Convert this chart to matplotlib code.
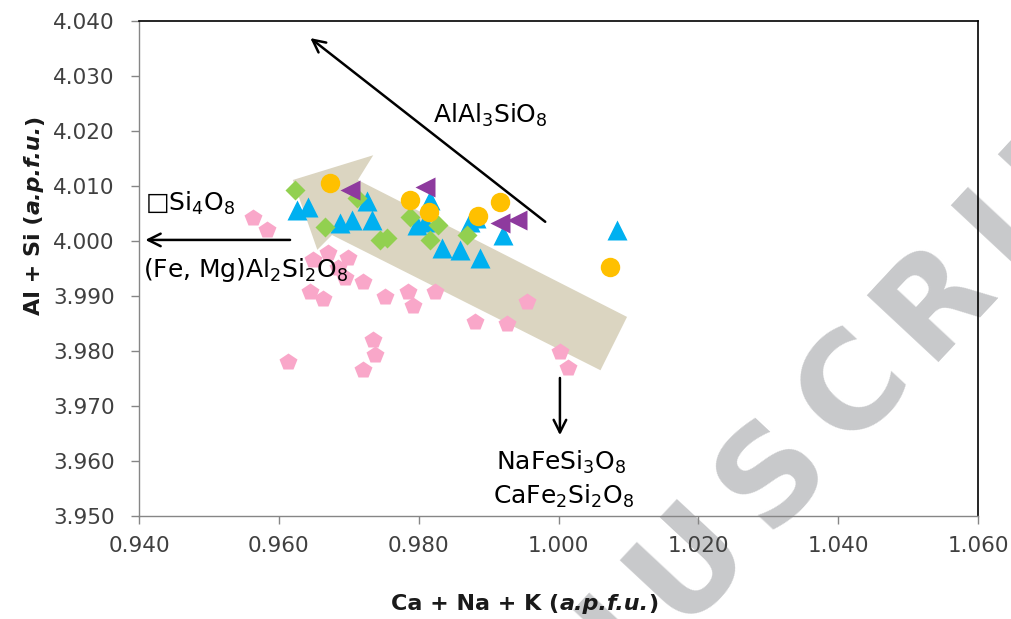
import matplotlib
matplotlib.use('Agg')
import numpy as np
import matplotlib.pyplot as plt
from matplotlib.patches import Polygon
from matplotlib.font_manager import FontProperties

plt.rcParams['font.family'] = ['DejaVu Sans']
plt.rcParams['mathtext.fontset'] = 'dejavusans'

# datos (Ca+Na+K vs Al+Si, a.p.f.u.)
pink_x = [0.9563, 0.9583, 0.9649, 0.9670, 0.9699, 0.9685, 0.9695, 0.9720, 0.9645, 0.9663, 0.9752, 0.9785,
          0.9792, 0.9823, 0.9881, 0.9926, 0.9955, 0.9735, 0.9738, 0.9613, 0.9720, 1.0002, 1.0014]
pink_y = [4.0042, 4.0020, 3.9965, 3.9978, 3.9969, 3.9951, 3.9933, 3.9925, 3.9907, 3.9895, 3.9898, 3.9907,
          3.9882, 3.9907, 3.9853, 3.9849, 3.9889, 3.9820, 3.9793, 3.9780, 3.9765, 3.9798, 3.9769]

blue_x = [0.9626, 0.9642, 0.9688, 0.9705, 0.9726, 0.9733, 0.9798, 0.9809, 0.9816, 0.9833, 0.9859, 0.9888,
          0.9874, 0.9882, 0.9921, 1.0084]
blue_y = [4.0056, 4.0062, 4.0033, 4.0038, 4.0073, 4.0038, 4.0029, 4.0035, 4.0075, 3.9987, 3.9984, 3.9969,
          4.0035, 4.0042, 4.0011, 4.0020]

green_x = [0.9623, 0.9666, 0.9712, 0.9745, 0.9755, 0.9788, 0.9828, 0.9816, 0.9869]
green_y = [4.0093, 4.0025, 4.0078, 4.0002, 4.0005, 4.0044, 4.0029, 4.0002, 4.0011]

yellow_x = [0.9673, 0.9788, 0.9815, 0.9885, 0.9916, 1.0074]
yellow_y = [4.0105, 4.0075, 4.0053, 4.0045, 4.0071, 3.9953]

purple_x = [0.9702, 0.9809, 0.9916, 0.9941]
purple_y = [4.0093, 4.0098, 4.0033, 4.0038]

x_ticks = [0.940, 0.960, 0.980, 1.000, 1.020, 1.040, 1.060]
y_ticks = [3.950, 3.960, 3.970, 3.980, 3.990, 4.000, 4.010, 4.020, 4.030, 4.040]

W, H = 1012, 619
fig = plt.figure(figsize=(W / 100, H / 100), dpi=100)
fig.patch.set_facecolor('white')

ax = fig.add_axes([0.1374, 0.1664, 0.8290, 0.7996])
ax.patch.set_visible(False)

# flecha ancha de fondo
flecha = [(0.9620, 4.0111), (0.9735, 4.0156), (0.9713, 4.0111), (1.0098, 3.9862),
          (1.0060, 3.9765), (0.9676, 4.0011), (0.9655, 3.9984)]
ax.add_patch(Polygon(flecha, closed=True, facecolor='#dbd5c1', edgecolor='none', zorder=1))

ax.plot(pink_x, pink_y, 'p', color='#f9a7c9', ms=13, mec='none', zorder=3)
ax.plot(blue_x, blue_y, '^', color='#00b0f0', ms=14, mec='none', zorder=4)
ax.plot(green_x, green_y, 'D', color='#92d050', ms=10, mec='none', zorder=5)
ax.plot(yellow_x, yellow_y, 'o', color='#ffc000', ms=14, mec='none', zorder=6)
ax.plot(purple_x, purple_y, '<', color='#8e3a9e', ms=14, mec='none', zorder=7)

# flechas negras
props = dict(arrowstyle='->,head_length=0.9,head_width=0.45', lw=1.8, color='black', shrinkA=0, shrinkB=0)
ax.annotate('', xy=(0.9645, 4.0369), xytext=(0.9981, 4.0035), arrowprops=props, zorder=8)
ax.annotate('', xy=(0.9409, 4.0002), xytext=(0.9616, 4.0002), arrowprops=props, zorder=8)
ax.annotate('', xy=(1.0002, 3.9647), xytext=(1.0002, 3.9751), arrowprops=props, zorder=8)

fs = 18
ax.text(0.9902, 4.0229, r'AlAl$_3$SiO$_8$', fontsize=fs, ha='center', va='center', zorder=9)
ax.text(0.9409, 4.0069, r'□Si$_4$O$_8$', fontsize=fs, ha='left', va='center', zorder=9)
ax.text(0.9405, 3.9947, r'(Fe, Mg)Al$_2$Si$_2$O$_8$', fontsize=fs, ha='left', va='center', zorder=9)
ax.text(1.0004, 3.9598, r'NaFeSi$_3$O$_8$', fontsize=fs, ha='center', va='center', zorder=9)
ax.text(1.0007, 3.9535, r'CaFe$_2$Si$_2$O$_8$', fontsize=fs, ha='center', va='center', zorder=9)

ax.set_xlim(0.940, 1.060)
ax.set_ylim(3.950, 4.040)
ax.set_xticks(x_ticks)
ax.set_yticks(y_ticks)
ax.set_xticklabels(['%.3f' % v for v in x_ticks])
ax.set_yticklabels(['%.3f' % v for v in y_ticks])
ax.tick_params(axis='both', direction='out', length=5.5, width=1, color='#868686',
               labelcolor='#404040', labelsize=15.5)
ax.tick_params(axis='x', pad=9)
ax.tick_params(axis='y', pad=12)

for s in ['left', 'bottom']:
    ax.spines[s].set_color('#868686')
    ax.spines[s].set_linewidth(1)
for s in ['top', 'right']:
    ax.spines[s].set_color('black')
    ax.spines[s].set_linewidth(1.2)

# titulos de ejes: negrita + negrita cursiva encadenados
lab = dict(fontsize=16, fontweight='bold', color='#1a1a1a')
x1 = fig.text(0.35, 9 / H, 'Ca + Na + K (', ha='left', va='baseline', **lab)
x2 = ax.annotate('a.p.f.u.', xy=(1, 0), xycoords=x1, ha='left', va='bottom', style='italic', **lab)
x3 = ax.annotate(')', xy=(1, 0), xycoords=x2, ha='left', va='bottom', **lab)

y1 = fig.text(44 / W, 0.4, 'Al + Si (', rotation=90, ha='right', va='bottom', **lab)
y2 = ax.annotate('a.p.f.u.', xy=(1, 1), xycoords=y1, rotation=90, ha='right', va='bottom',
                 style='italic', **lab)
y3 = ax.annotate(')', xy=(1, 1), xycoords=y2, rotation=90, ha='right', va='bottom', **lab)

fig.canvas.draw()
r = fig.canvas.get_renderer()

# centrar los titulos compuestos
bx1, bx3 = x1.get_window_extent(r), x3.get_window_extent(r)
dx = 525 - (bx1.x0 + bx3.x1) / 2
x1.set_x(x1.get_position()[0] + dx / W)
by1, by3 = y1.get_window_extent(r), y3.get_window_extent(r)
cy = H - 215
dy = cy - (by1.y0 + by3.y1) / 2
y1.set_y(y1.get_position()[1] + dy / H)

# marca de agua: letras espaciadas a lo largo de una diagonal (detras de todo)
palabra = 'MANUSCRIPT'
wm_prop = FontProperties(family='DejaVu Sans', weight='bold', size=96)
ang = np.deg2rad(47)
d = np.array([np.cos(ang), np.sin(ang)])
track = 20
anchos = [r.get_text_width_height_descent(c, wm_prop, ismath=False)[0] for c in palabra]
centros = np.cumsum([0] + [anchos[i] / 2 + track + anchos[i + 1] / 2 for i in range(len(palabra) - 1)])
i_s = palabra.index('S')
base_s = np.array([800.0, H - 498.0])
for c, s in zip(palabra, centros - centros[i_s]):
    px, py = base_s + s * d
    fig.text(px / W, py / H, c, fontproperties=wm_prop, color='#c8c9cb', rotation=47,
             rotation_mode='anchor', ha='center', va='baseline', zorder=-5)

fig.savefig('out.png', dpi=100)
